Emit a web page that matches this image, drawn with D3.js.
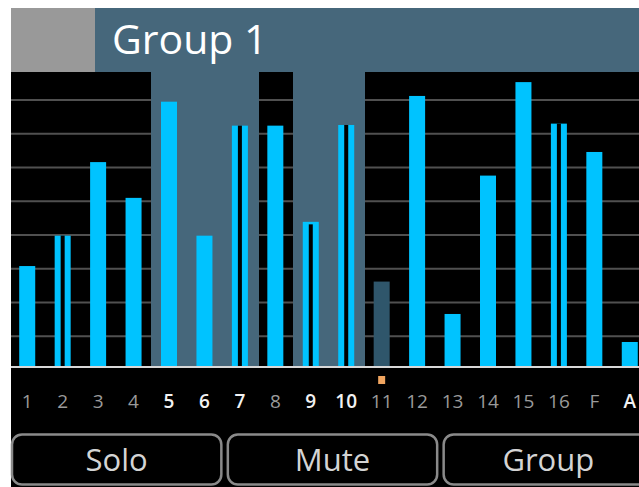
<!DOCTYPE html>
<html>
<head>
<meta charset="utf-8">
<script src="https://cdn.jsdelivr.net/npm/d3@7"></script>
<style>
  body { margin: 0; background: #fff; }
  svg { display: block; font-family: "Open Sans", "Noto Sans", sans-serif; }
</style>
</head>
<body>
<div id="chart"></div>
<script>
// channel strip data
var channels = ["1","2","3","4","5","6","7","8","9","10","11","12","13","14","15","16","F","A"];
var levels = [30.8, 39.8, 61.6, 51, 79.5, 39.8, 72.4, 72.4, 43.9, 72.6, 26.2, 81.2, 16.6, 57.6, 85.3, 73, 64.6, 8.3];
var gridValues = [10, 20, 30, 40, 50, 60, 70, 80];
var selected = ["5", "6", "7", "9", "10"];     // members of the group
var brightLabels = ["5", "6", "7", "9", "10", "A"];
var linked = ["2", "7", "9", "10", "16"];       // stereo pairs, drawn split
var capped = ["9"];                             // split bar with a top cap
var muted = ["11"];
var marked = ["11"];
var buttons = ["Solo", "Mute", "Group"];
var title = "Group 1";

var W = 639, H = 487;
var left = 11, headTop = 8, headBottom = 72, baseY = 366;

var svg = d3.select("#chart").append("svg")
    .attr("width", W)
    .attr("height", H);

// x: one band per channel
var x = d3.scaleBand()
    .domain(channels)
    .range([9.5, 647.5])
    .padding(0);
var barW = 16;
var cx = function(d) { return x(d) + x.bandwidth() / 2; };

// y: fader level
var y = d3.scaleLinear()
    .domain([0, 80])
    .range([370, 100]);

// background
svg.append("rect")
    .attr("x", left).attr("y", headBottom)
    .attr("width", W - left).attr("height", H - headBottom)
    .attr("fill", "#000");

// header
svg.append("rect")
    .attr("x", left).attr("y", headTop)
    .attr("width", 84).attr("height", headBottom - headTop)
    .attr("fill", "#999999");
svg.append("rect")
    .attr("x", 95).attr("y", headTop)
    .attr("width", W - 95).attr("height", headBottom - headTop)
    .attr("fill", "#46677b");
svg.append("text")
    .attr("x", 112).attr("y", 54)
    .attr("fill", "#fff")
    .style("font-size", "41px")
    .text(title);

// grid
svg.selectAll(".grid")
    .data(gridValues)
  .enter().append("line")
    .attr("class", "grid")
    .attr("x1", left).attr("x2", W)
    .attr("y1", function(d) { return y(d); })
    .attr("y2", function(d) { return y(d); })
    .attr("stroke", "#505050")
    .attr("stroke-width", 2);

// group member columns
svg.selectAll(".sel")
    .data(selected)
  .enter().append("rect")
    .attr("class", "sel")
    .attr("x", function(d) { return Math.floor(x(d)); })
    .attr("y", headBottom - 1)
    .attr("width", Math.ceil(x.bandwidth()) + 1)
    .attr("height", baseY - headBottom + 1)
    .attr("shape-rendering", "crispEdges")
    .attr("fill", "#46677b");

// bars
var data = channels.map(function(c, i) { return {name: c, level: levels[i]}; });

svg.selectAll(".bar")
    .data(data)
  .enter().append("rect")
    .attr("class", "bar")
    .attr("x", function(d) { return cx(d.name) - barW / 2; })
    .attr("y", function(d) { return y(d.level); })
    .attr("width", barW)
    .attr("height", function(d) { return baseY - y(d.level); })
    .attr("fill", function(d) { return muted.indexOf(d.name) >= 0 ? "#2f566b" : "#00c3ff"; });

// split for linked pairs
svg.selectAll(".split")
    .data(data.filter(function(d) { return linked.indexOf(d.name) >= 0; }))
  .enter().append("rect")
    .attr("class", "split")
    .attr("x", function(d) { return cx(d.name) - 2; })
    .attr("y", function(d) { return y(d.level) + (capped.indexOf(d.name) >= 0 ? 2.5 : 0); })
    .attr("width", 4)
    .attr("height", function(d) { return baseY - y(d.level); })
    .attr("fill", "#000");

// baseline
svg.append("line")
    .attr("x1", left).attr("x2", W)
    .attr("y1", baseY + 1).attr("y2", baseY + 1)
    .attr("stroke", "#d8d8d8")
    .attr("stroke-width", 2);

// marker
svg.selectAll(".mark")
    .data(marked)
  .enter().append("rect")
    .attr("class", "mark")
    .attr("x", function(d) { return cx(d) - 3.5; })
    .attr("y", 376)
    .attr("width", 7).attr("height", 8)
    .attr("fill", "#f0a560");

// channel labels
svg.selectAll(".lbl")
    .data(channels)
  .enter().append("text")
    .attr("class", "lbl")
    .attr("x", cx)
    .attr("y", 408)
    .attr("text-anchor", "middle")
    .style("font-size", "19px")
    .style("font-weight", function(d) { return brightLabels.indexOf(d) >= 0 ? 600 : 400; })
    .attr("fill", function(d) { return brightLabels.indexOf(d) >= 0 ? "#f2f2f2" : "#9a9a9a"; })
    .text(function(d) { return d; });

// soft buttons
var bx = d3.scaleBand()
    .domain(buttons)
    .range([12, 653])
    .paddingInner(0.03);

var btn = svg.selectAll(".btn")
    .data(buttons)
  .enter().append("g")
    .attr("class", "btn");

btn.append("rect")
    .attr("x", function(d) { return bx(d); })
    .attr("y", 434.5)
    .attr("width", bx.bandwidth())
    .attr("height", 50)
    .attr("rx", 10)
    .attr("fill", "none")
    .attr("stroke", "#8a8a8a")
    .attr("stroke-width", 2.5);

btn.append("text")
    .attr("x", function(d) { return bx(d) + bx.bandwidth() / 2; })
    .attr("y", 471)
    .attr("text-anchor", "middle")
    .style("font-size", "31px")
    .attr("fill", "#d4d4d4")
    .text(function(d) { return d; });
</script>
</body>
</html>
